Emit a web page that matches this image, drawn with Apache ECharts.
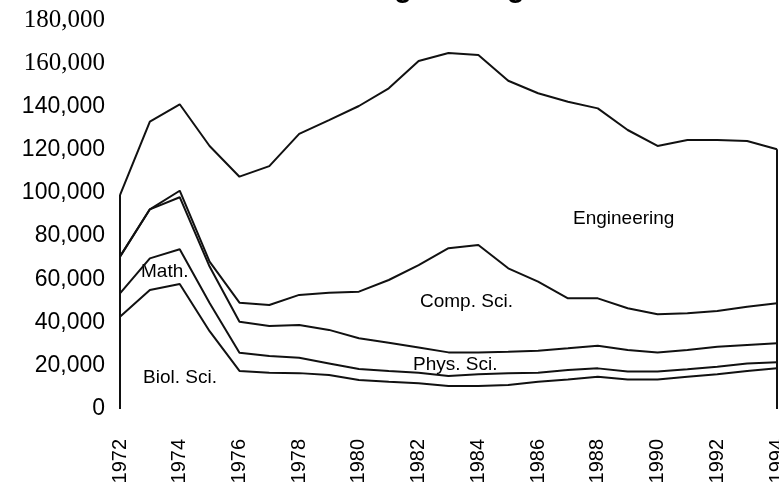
<!DOCTYPE html>
<html lang="en">
<head>
    <meta charset="utf-8">
    <title>Total Engineering</title>
    <script src="https://cdn.jsdelivr.net/npm/echarts@6/dist/echarts.min.js"></script>
    <style>
        html, body { margin: 0; padding: 0; background: #fff; }
        #Chart { width: 779px; height: 487px; }
    </style>
</head>
<body>
    <div id="Chart"></div>
    <script>
        // Years on the x axis
        var years = ['1972', '1973', '1974', '1975', '1976', '1977', '1978', '1979', '1980', '1981', '1982', '1983',
            '1984', '1985', '1986', '1987', '1988', '1989', '1990', '1991', '1992', '1993', '1994'];

        // Each field's own amount; the lines are drawn stacked on top of each other
        var biolSci = [42700, 55100, 57800, 36000, 17600, 16800, 16600, 15700, 13400, 12600, 11900, 10600,
            10600, 11100, 12600, 13700, 14900, 13700, 13700, 14900, 16100, 17600, 18800];
        var mathSci = [10800, 14600, 16100, 13000, 8400, 7700, 7100, 5400, 5100, 5000, 4900, 4700,
            5500, 5400, 4200, 4300, 3900, 3600, 3600, 3500, 3500, 3500, 2800];
        var physSci = [17000, 22700, 24100, 16900, 14400, 13900, 15200, 15500, 14200, 13100, 11700, 10900,
            10100, 10000, 10200, 10100, 10500, 10000, 8900, 8900, 9200, 8500, 8800];
        var compSci = [0, 0, 3000, 2300, 8800, 9700, 13900, 17200, 21600, 29000, 38100, 48200,
            49700, 38600, 31900, 23100, 21900, 19300, 17600, 17000, 16500, 17700, 18500];
        var engineering = [28500, 40600, 40000, 53500, 58300, 64300, 74500, 79900, 85900, 88700, 94400, 90300,
            87900, 86800, 87200, 91000, 87900, 82500, 77900, 80200, 79200, 76700, 71300];

        var fieldNames = ['Biol. Sci.', 'Math.', 'Phys. Sci.', 'Comp. Sci.', 'Engineering'];

        var sans = '"Liberation Sans", Arial, Helvetica, sans-serif';
        var serif = '"Liberation Serif", "Times New Roman", serif';
        var lineColor = '#111';

        // totals give the left and right edges of the stack
        var totals = years.map(function (y, i) {
            return biolSci[i] + mathSci[i] + physSci[i] + compSci[i] + engineering[i];
        });
        var last = years.length - 1;

        function makeSeries(name, values, withEdges) {
            var s = {
                name: name,
                type: 'line',
                stack: 'all',
                data: values,
                showSymbol: false,
                symbol: 'none',
                lineStyle: { color: lineColor, width: 2 },
                silent: true,
                animation: false
            };
            if (withEdges) {
                s.markLine = {
                    symbol: 'none',
                    silent: true,
                    label: { show: false },
                    lineStyle: { color: lineColor, width: 2, type: 'solid' },
                    data: [
                        [{ coord: [years[0], totals[0]] }, { coord: [years[0], 0] }],
                        [{ coord: [years[last], totals[last]] }, { coord: [years[last], 0] }]
                    ]
                };
            }
            return s;
        }

        var chart = echarts.init(document.getElementById('Chart'));

        var option = {
            backgroundColor: '#fff',
            animation: false,
            grid: {
                left: 120,
                right: 2,
                top: 20,
                bottom: 78,
                containLabel: false,
                outerBoundsMode: 'none'
            },
            xAxis: {
                type: 'category',
                data: years,
                boundaryGap: false,
                axisLine: { show: false },
                axisTick: { show: false },
                splitLine: { show: false },
                axisLabel: {
                    interval: 1,
                    rotate: 90,
                    margin: 30,
                    color: '#000',
                    fontFamily: sans,
                    fontSize: 20
                }
            },
            yAxis: {
                type: 'value',
                min: 0,
                max: 180000,
                interval: 20000,
                axisLine: { show: false },
                axisTick: { show: false },
                splitLine: { show: false },
                axisLabel: {
                    margin: 15,
                    color: '#000',
                    fontFamily: sans,
                    fontSize: 23,
                    formatter: function (v) {
                        var txt = v.toLocaleString('en-US');
                        // the two top labels are set in a serif face in the original
                        return v >= 160000 ? '{s|' + txt + '}' : txt;
                    },
                    rich: {
                        s: { fontFamily: serif, fontSize: 25, color: '#000' }
                    }
                }
            },
            graphic: [
                { type: 'text', x: 282, y: -11, silent: true,
                    style: { text: 'Total Engineering', font: 'bold 29px ' + sans, fill: '#000', verticalAlign: 'middle' } },
                { type: 'text', x: 573, y: 219, silent: true,
                    style: { text: fieldNames[4], font: '19px ' + sans, fill: '#000', verticalAlign: 'middle' } },
                { type: 'text', x: 420, y: 302, silent: true,
                    style: { text: fieldNames[3], font: '19px ' + sans, fill: '#000', verticalAlign: 'middle' } },
                { type: 'text', x: 413, y: 365, silent: true,
                    style: { text: fieldNames[2], font: '19px ' + sans, fill: '#000', verticalAlign: 'middle' } },
                { type: 'text', x: 141, y: 272, silent: true,
                    style: { text: fieldNames[1], font: '19px ' + sans, fill: '#000', verticalAlign: 'middle' } },
                { type: 'text', x: 143, y: 378, silent: true,
                    style: { text: fieldNames[0], font: '19px ' + sans, fill: '#000', verticalAlign: 'middle' } }
            ],
            series: [
                makeSeries(fieldNames[0], biolSci, false),
                makeSeries(fieldNames[1], mathSci, false),
                makeSeries(fieldNames[2], physSci, false),
                makeSeries(fieldNames[3], compSci, false),
                makeSeries(fieldNames[4], engineering, true)
            ]
        };

        chart.setOption(option);
    </script>
</body>
</html>
